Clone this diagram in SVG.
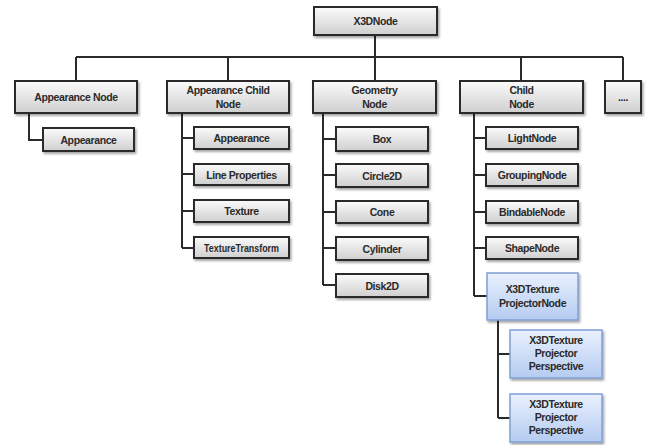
<svg xmlns="http://www.w3.org/2000/svg" width="648" height="445" viewBox="0 0 648 445">
<defs>
<linearGradient id="gg" x1="0" y1="0" x2="0" y2="1">
<stop offset="0" stop-color="#fbfbfb"/><stop offset="1" stop-color="#cfcfcf"/>
</linearGradient>
<linearGradient id="bg" x1="0" y1="0" x2="0" y2="1">
<stop offset="0" stop-color="#eaf1fd"/><stop offset="1" stop-color="#b4cbf1"/>
</linearGradient>
<filter id="sh" x="-10%" y="-10%" width="130%" height="140%">
<feDropShadow dx="1.5" dy="2" stdDeviation="1.2" flood-color="#000" flood-opacity="0.35"/>
</filter>
</defs>
<style>
.n rect{fill:url(#gg);stroke:#2a2a2a;stroke-width:2;filter:url(#sh)}
.b rect{fill:url(#bg);stroke:#7f9fd4;stroke-width:1.5;filter:url(#sh)}
text{font-family:"Liberation Sans",Arial,sans-serif;font-size:10.5px;font-weight:bold;fill:#2a2a2a;text-anchor:middle;letter-spacing:-0.4px}
.c{fill:none;stroke:#2a2a2a;stroke-width:2}
</style>
<rect width="648" height="445" fill="#fff"/>
<g id="connectors" class="c">
<path d="M375,35V57M76,57H623M76,57V81M228,57V81M375,57V81M521,57V81M623,57V81"/>
<path d="M29,113V140H43"/>
<path d="M182,113V248M182,138H194M182,174H194M182,211H194M182,248H194"/>
<path d="M323,113V285M323,139H336M323,175H336M323,212H336M323,248H336M323,285H336"/>
<path d="M474,113V296M474,138H486M474,175H486M474,212H486M474,248H486M474,296H487"/>
<path d="M498,320V418M498,354H510M498,418H510"/>
</g>
<g id="x3dnode" class="n"><rect x="314" y="7" width="123" height="28"/><text x="375.5" y="25">X3DNode</text></g>
<g id="appearanceNode" class="n"><rect x="15" y="81" width="122" height="32"/><text x="76" y="101">Appearance Node</text></g>
<g id="appearance1" class="n"><rect x="43" y="128" width="91" height="23"/><text x="88.5" y="143.5">Appearance</text></g>
<g id="appearanceChildNode" class="n"><rect x="167" y="81" width="122" height="32"/><text x="228" y="94">Appearance Child</text><text x="228" y="107.5">Node</text></g>
<g id="appearance2" class="n"><rect x="194" y="127" width="95" height="22"/><text x="241.5" y="142">Appearance</text></g>
<g id="lineProperties" class="n"><rect x="194" y="164" width="95" height="21"/><text x="241.5" y="178.5">Line Properties</text></g>
<g id="texture" class="n"><rect x="194" y="200" width="95" height="22"/><text x="241.5" y="215">Texture</text></g>
<g id="textureTransform" class="n"><rect x="194" y="237" width="95" height="21"/><text x="241.5" y="251.5" textLength="75" lengthAdjust="spacingAndGlyphs" style="letter-spacing:0">TextureTransform</text></g>
<g id="geometryNode" class="n"><rect x="313" y="81" width="123" height="32"/><text x="374.5" y="94">Geometry</text><text x="374.5" y="107.5">Node</text></g>
<g id="box" class="n"><rect x="336" y="127" width="92" height="24"/><text x="382" y="143">Box</text></g>
<g id="circle2d" class="n"><rect x="336" y="164" width="92" height="23"/><text x="382" y="179.5">Circle2D</text></g>
<g id="cone" class="n"><rect x="336" y="201" width="92" height="22"/><text x="382" y="216">Cone</text></g>
<g id="cylinder" class="n"><rect x="336" y="237" width="92" height="23"/><text x="382" y="252.5">Cylinder</text></g>
<g id="disk2d" class="n"><rect x="336" y="274" width="92" height="23"/><text x="382" y="289.5">Disk2D</text></g>
<g id="childNode" class="n"><rect x="460" y="81" width="123" height="32"/><text x="521.5" y="94">Child</text><text x="521.5" y="107.5">Node</text></g>
<g id="more" class="n"><rect x="605" y="81" width="36" height="32"/><text x="623" y="100.5">....</text></g>
<g id="lightNode" class="n"><rect x="486" y="127" width="92" height="22"/><text x="532" y="142">LightNode</text></g>
<g id="groupingNode" class="n"><rect x="486" y="164" width="92" height="22"/><text x="532" y="179">GroupingNode</text></g>
<g id="bindableNode" class="n"><rect x="486" y="201" width="92" height="22"/><text x="532" y="216">BindableNode</text></g>
<g id="shapeNode" class="n"><rect x="486" y="237" width="92" height="22"/><text x="532" y="252">ShapeNode</text></g>
<g id="projectorNode" class="b"><rect x="487" y="273" width="91" height="47"/><text x="532.5" y="293">X3DTexture</text><text x="532.5" y="306.5">ProjectorNode</text></g>
<g id="perspective1" class="b"><rect x="510" y="330" width="92" height="48"/><text x="556" y="344">X3DTexture</text><text x="556" y="357">Projector</text><text x="556" y="370">Perspective</text></g>
<g id="perspective2" class="b"><rect x="510" y="394" width="92" height="48"/><text x="556" y="408">X3DTexture</text><text x="556" y="421">Projector</text><text x="556" y="434">Perspective</text></g>
</svg>
